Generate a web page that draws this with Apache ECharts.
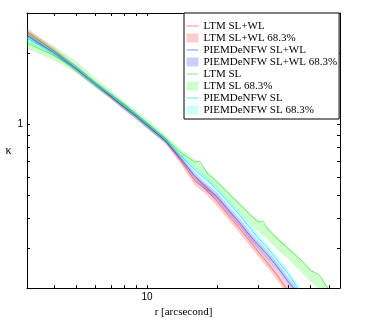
<!DOCTYPE html>
<html>
<head>
<meta charset="utf-8">
<script src="https://cdn.jsdelivr.net/npm/echarts@6/dist/echarts.min.js"></script>
<style>
html, body { margin: 0; padding: 0; background: #fff; }
#chart { width: 373px; height: 323px; }
</style>
</head>
<body>
<div id="chart"></div>
<script>
// radius in arcsec (SL+WL runs and PIEMDeNFW SL)
var rModel = [3.07, 4, 5, 6, 7, 8, 9, 10, 12, 14, 16, 18, 20, 22, 25, 28, 30, 33, 36, 40, 45];
// radius for LTM SL (it runs further out)
var rLtmSl = [3.07, 4, 5, 6, 7, 8, 9, 10, 12, 14, 16, 16.85, 18, 20, 22, 25, 28, 30, 31.3, 33, 36, 40, 45, 50, 54.8, 58, 62];

// LTM SL+WL
var ltmSlWl    = [2.46, 2.04, 1.71, 1.48, 1.31, 1.18, 1.08, 0.99, 0.852, 0.70, 0.578, 0.528, 0.471, 0.42, 0.362, 0.315, 0.289, 0.258, 0.231, 0.199, 0.174];
var ltmSlWlLo  = [2.37, 1.99, 1.66, 1.44, 1.28, 1.15, 1.05, 0.963, 0.829, 0.675, 0.553, 0.504, 0.45, 0.402, 0.346, 0.30, 0.276, 0.246, 0.22, 0.19, 0.166];
var ltmSlWlHi  = [2.54, 2.10, 1.76, 1.52, 1.35, 1.22, 1.11, 1.02, 0.877, 0.725, 0.602, 0.553, 0.494, 0.442, 0.38, 0.33, 0.303, 0.271, 0.242, 0.209, 0.183];
// PIEMDeNFW SL+WL
var pieSlWl    = [2.37, 2.00, 1.71, 1.48, 1.31, 1.18, 1.08, 0.99, 0.852, 0.713, 0.605, 0.538, 0.494, 0.442, 0.383, 0.333, 0.309, 0.279, 0.251, 0.218, 0.19];
var pieSlWlLo  = [2.31, 1.95, 1.66, 1.44, 1.28, 1.15, 1.05, 0.963, 0.829, 0.693, 0.585, 0.518, 0.476, 0.425, 0.369, 0.32, 0.298, 0.268, 0.242, 0.21, 0.183];
var pieSlWlHi  = [2.44, 2.06, 1.76, 1.52, 1.35, 1.22, 1.11, 1.02, 0.877, 0.733, 0.625, 0.558, 0.513, 0.459, 0.398, 0.346, 0.321, 0.289, 0.261, 0.227, 0.197];
// LTM SL
var ltmSl      = [2.20, 1.95, 1.72, 1.48, 1.33, 1.21, 1.10, 1.01, 0.869, 0.758, 0.693, 0.700, 0.625, 0.569, 0.518, 0.458, 0.410, 0.387, 0.391, 0.359, 0.330, 0.300, 0.271, 0.242, 0.231, 0.210, 0.193];
var ltmSlLo    = [2.08, 1.86, 1.645, 1.43, 1.28, 1.16, 1.06, 0.97, 0.836, 0.727, 0.65, 0.631, 0.585, 0.533, 0.481, 0.421, 0.373, 0.353, 0.339, 0.324, 0.297, 0.271, 0.242, 0.218, 0.200, 0.190, 0.176];
var ltmSlHi    = [2.49, 2.14, 1.84, 1.57, 1.39, 1.25, 1.14, 1.05, 0.902, 0.783, 0.713, 0.687, 0.637, 0.580, 0.528, 0.467, 0.417, 0.394, 0.384, 0.366, 0.336, 0.306, 0.273, 0.246, 0.227, 0.214, 0.197];
// PIEMDeNFW SL
var pieSl      = [2.31, 2.00, 1.72, 1.48, 1.33, 1.195, 1.088, 1.0, 0.86, 0.735, 0.643, 0.583, 0.528, 0.476, 0.413, 0.359, 0.33, 0.298, 0.268, 0.235, 0.199];
var pieSlLo    = [2.22, 1.95, 1.68, 1.44, 1.29, 1.16, 1.06, 0.97, 0.836, 0.715, 0.619, 0.558, 0.508, 0.459, 0.398, 0.346, 0.318, 0.286, 0.258, 0.227, 0.191];
var pieSlHi    = [2.37, 2.06, 1.77, 1.52, 1.36, 1.23, 1.12, 1.03, 0.885, 0.755, 0.668, 0.608, 0.548, 0.494, 0.429, 0.373, 0.343, 0.309, 0.279, 0.244, 0.206];

var xTicks = [4, 5, 6, 7, 8, 9, 10, 20, 30, 40, 50, 60];
var yTicks = [0.3, 0.4, 0.5, 0.6, 0.7, 0.8, 0.9, 1, 2];
var xLabels = [10];
var yLabels = [1];
var xRange = [3.07, 66.8];
var yRange = [0.204, 2.945];

var lg = Math.log10;

function pts(r, k) {
  return r.map(function (v, i) { return [lg(v), lg(k[i])]; });
}

var curves = [
  { name: 'LTM SL+WL', r: rModel, k: ltmSlWl, lo: ltmSlWlLo, hi: ltmSlWlHi, line: 'rgba(255,0,0,0.45)', fill: 'rgba(255,0,0,0.2)' },
  { name: 'PIEMDeNFW SL+WL', r: rModel, k: pieSlWl, lo: pieSlWlLo, hi: pieSlWlHi, line: 'rgba(0,0,255,0.45)', fill: 'rgba(0,0,255,0.2)' },
  { name: 'LTM SL', r: rLtmSl, k: ltmSl, lo: ltmSlLo, hi: ltmSlHi, line: 'rgba(0,200,0,0.45)', fill: 'rgba(0,255,0,0.2)' },
  { name: 'PIEMDeNFW SL', r: rModel, k: pieSl, lo: pieSlLo, hi: pieSlHi, line: 'rgba(0,220,220,0.6)', fill: 'rgba(0,255,255,0.2)' }
];

// 68.3% band: one polygon, upper edge out and lower edge back
function bandSeries(c) {
  var rows = c.r.map(function (v, i) { return [lg(v), lg(c.lo[i]), lg(c.hi[i])]; });
  return {
    name: c.name + ' 68.3%', type: 'custom', data: rows, clip: true, silent: true, z: 1,
    itemStyle: { color: c.fill },
    encode: { x: 0, y: [1, 2] },
    renderItem: function (params, api) {
      if (params.dataIndex !== 0) return null;
      var poly = [];
      rows.forEach(function (d) { poly.push(api.coord([d[0], d[2]])); });
      rows.slice().reverse().forEach(function (d) { poly.push(api.coord([d[0], d[1]])); });
      return { type: 'polygon', shape: { points: poly }, style: { fill: c.fill } };
    }
  };
}

var series = [];
var legendData = [];
curves.forEach(function (c) { series.push(bandSeries(c)); });
curves.forEach(function (c) {
  series.push({
    name: c.name, type: 'line', data: pts(c.r, c.k), symbol: 'none', silent: true,
    color: c.line, lineStyle: { width: 1, color: c.line }, z: 3
  });
  legendData.push({ name: c.name, itemStyle: { opacity: 0 }, lineStyle: { width: 1, color: c.line } });
  legendData.push({ name: c.name + ' 68.3%', icon: 'rect', itemStyle: { color: c.fill, borderWidth: 0 } });
});

function axisBase(pos, range, ticks, labels, showLabel) {
  return {
    type: 'value', position: pos,
    min: lg(range[0]), max: lg(range[1]),
    axisLine: { onZero: false, lineStyle: { color: '#000', width: 1 } },
    axisTick: { inside: true, length: 3, customValues: ticks.map(lg), lineStyle: { color: '#000' } },
    axisLabel: {
      show: showLabel, customValues: labels.map(lg), margin: 4,
      fontFamily: 'Liberation Sans', fontSize: 10, color: '#000',
      formatter: function (v) { return String(Math.round(Math.pow(10, v))); }
    },
    splitLine: { show: false }
  };
}

var xBottom = axisBase('bottom', xRange, xTicks, xLabels, true);
xBottom.name = 'r [arcsecond]';
xBottom.nameLocation = 'middle';
xBottom.nameGap = 12;
xBottom.nameTextStyle = { fontFamily: 'Liberation Serif', fontSize: 11, color: '#000' };
var yLeft = axisBase('left', yRange, yTicks, yLabels, true);
yLeft.name = 'κ';
yLeft.nameLocation = 'middle';
yLeft.nameRotate = 0;
yLeft.nameGap = 12;
yLeft.nameTextStyle = { fontFamily: 'Liberation Serif', fontSize: 12, color: '#000' };

var option = {
  animation: false,
  backgroundColor: '#fff',
  grid: { left: 27, top: 13, right: 33, bottom: 26, containLabel: false },
  xAxis: [xBottom, axisBase('top', xRange, xTicks, [], false)],
  yAxis: [yLeft, axisBase('right', yRange, yTicks, [], false)],
  legend: {
    data: legendData, orient: 'vertical', left: 184, top: 13,
    padding: [7, 2, 3, 2], itemGap: 0, itemWidth: 12, itemHeight: 9,
    backgroundColor: '#fff', borderColor: '#000', borderWidth: 1,
    selectedMode: false,
    textStyle: { fontFamily: 'Liberation Serif', fontSize: 11, color: '#000', lineHeight: 12 }
  },
  series: series
};

var chart = echarts.init(document.getElementById('chart'), null, { renderer: 'canvas' });
chart.setOption(option);
</script>
</body>
</html>
